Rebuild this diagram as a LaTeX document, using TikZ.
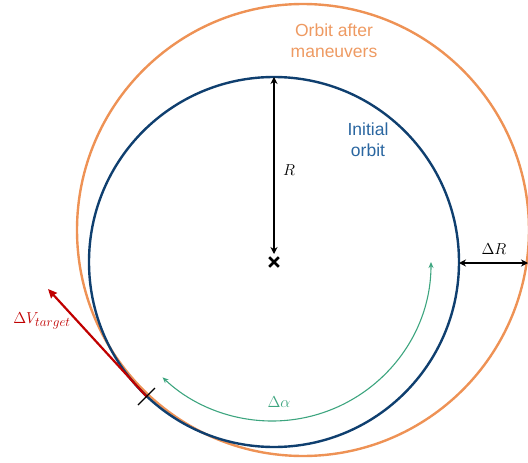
\documentclass[tikz,border=0pt]{standalone}
\usepackage{fontspec}
\setsansfont{Liberation Sans}
\usetikzlibrary{arrows.meta,shapes.misc}
\definecolor{orbblue}{HTML}{0F3F6F}
\definecolor{txtblue}{HTML}{2A66A0}
\definecolor{orborange}{HTML}{EE9255}
\definecolor{txtorange}{HTML}{EE9A62}
\definecolor{mygreen}{HTML}{3DA57F}
\definecolor{myred}{HTML}{C00000}
\newcommand{\mlab}[1]{\scalebox{1.1}{#1}}
\begin{document}
\begin{tikzpicture}[x=1pt,y=-1pt,
  orbit/.style={circle,draw,line width=2.4pt,inner sep=0pt},
  blackarrow/.style={line width=1.8pt,{Stealth[length=7pt,width=7pt]}-{Stealth[length=7pt,width=7pt]}},
  redarrow/.style={line width=2.2pt,myred,-{Stealth[length=9pt,width=8pt,inset=1pt]}},
  greenarrow/.style={line width=1.1pt,mygreen,{Stealth[length=6pt,width=5pt]}-{Stealth[length=6pt,width=5pt]}},
  lbl/.style={font=\sffamily\fontsize{17.5}{21}\selectfont,align=center,inner sep=0pt},
  mathlbl/.style={font=\Large,inner sep=0pt}]
\useasboundingbox (0,0) rectangle (528,463);
% orbits
\node[orbit,draw=orborange,minimum size=452pt] (after) at (303,230) {};
\node[orbit,draw=orbblue,minimum size=370pt] (init) at (274,262) {};
% centre marker
\node[cross out,draw,line width=2.6pt,minimum size=7pt,inner sep=0pt] (c) at (274,262) {};
% coordinates
\coordinate (top) at (274,77);
\coordinate (east) at (459,263);
\coordinate (edge) at (528,263);
\coordinate (tp) at (147,397);
\coordinate (vtip) at (48,289);
\coordinate (tk1) at (138,405);
\coordinate (tk2) at (155,388);
\coordinate (gs) at (431,262);
% R arrow
\draw[blackarrow] (top) -- (274,254);
\node[mathlbl] (rlab) at (289,170) {\mlab{$R$}};
% Delta R arrow
\draw[blackarrow] (east) -- (edge);
\node[mathlbl] (drlab) at (494,249) {\mlab{$\Delta R$}};
% Delta V
\draw[redarrow] (tp) -- (vtip);
\node[mathlbl,text=myred] (dvlab) at (42,321) {\mlab{$\Delta V_{\mbox{\large$target$}}$}};
% tick
\draw[line width=1.3pt] (tk1) -- (tk2);
% Delta alpha arc
\draw[greenarrow] (gs) arc[start angle=0,end angle=133.5,radius=159];
\node[mathlbl,text=mygreen] (dalab) at (279,402) {\mlab{$\Delta\alpha$}};
% texts
\node[lbl,text=txtblue] (it) at (368,140) {Initial\\orbit};
\node[lbl,text=txtorange] (ot) at (334,41) {Orbit after\\maneuvers};
\end{tikzpicture}
\end{document}
